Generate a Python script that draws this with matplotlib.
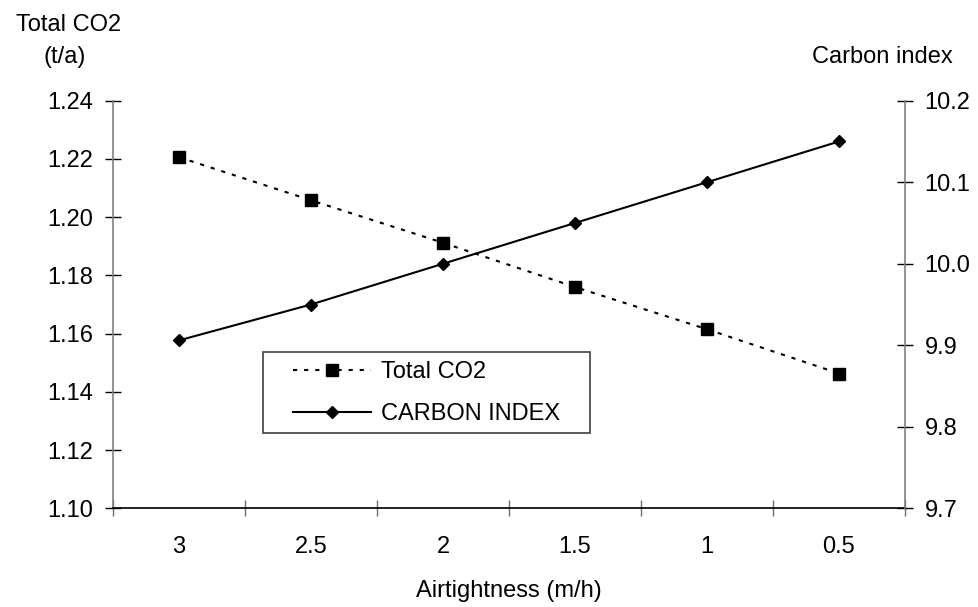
import matplotlib
matplotlib.use("Agg")
import matplotlib.pyplot as plt
from matplotlib.patches import Rectangle
from matplotlib.ticker import FixedLocator, FormatStrFormatter

plt.rcParams['font.family'] = ['Liberation Sans', 'DejaVu Sans']
plt.rcParams['font.size'] = 17
plt.rcParams['lines.scale_dashes'] = False

# data
airtightness = ['3', '2.5', '2', '1.5', '1', '0.5']
total_co2 = [1.2206, 1.2058, 1.1912, 1.1760, 1.1615, 1.1463]
carbon_index = [9.906, 9.950, 10.000, 10.050, 10.100, 10.150]

fig = plt.figure(figsize=(9.79, 6.07), dpi=100)
ax = fig.add_axes([113/979, 1-508.3/607, (905-113)/979, (508.3-100.7)/607])
ax2 = ax.twinx()

xs = list(range(len(airtightness)))
l1, = ax.plot(xs, total_co2, color='black', lw=1.5, linestyle=(0, (3, 5)),
              marker='s', markersize=8.3, markerfacecolor='black', markeredgecolor='black')
l2, = ax2.plot(xs, carbon_index, color='black', lw=1.5, linestyle='-',
               marker='D', markersize=6.2, markerfacecolor='black', markeredgecolor='black')

ax.set_xlim(-0.5, 5.5)
ax.set_ylim(1.10, 1.24)
ax2.set_ylim(9.7, 10.2)

ax.set_yticks([1.10, 1.12, 1.14, 1.16, 1.18, 1.20, 1.22, 1.24])
ax.yaxis.set_major_formatter(FormatStrFormatter('%.2f'))
ax2.set_yticks([9.7, 9.8, 9.9, 10.0, 10.1, 10.2])
ax2.yaxis.set_major_formatter(FormatStrFormatter('%.1f'))

ax.set_xticks(xs)
ax.set_xticklabels(airtightness)
ax.xaxis.set_minor_locator(FixedLocator([x - 0.5 for x in range(len(airtightness) + 1)]))
ax.tick_params(axis='x', which='major', length=0, pad=20)
ax.tick_params(axis='x', which='minor', direction='inout', length=12, width=1, color='#707070')
ax.tick_params(axis='y', direction='inout', length=12, width=1, color='black', pad=8)
ax2.tick_params(axis='y', direction='inout', length=12, width=1, color='black', pad=8)

for a in (ax, ax2):
    a.spines['top'].set_visible(False)
    a.spines['left'].set_color('#808080')
    a.spines['right'].set_color('#808080')
    a.spines['bottom'].set_color('black')
    a.spines['left'].set_linewidth(1.2)
    a.spines['right'].set_linewidth(1.2)
    a.spines['bottom'].set_linewidth(1.2)
ax.spines['right'].set_visible(False)
ax2.spines['left'].set_visible(False)
ax2.spines['bottom'].set_visible(False)

ax.set_xlabel('Airtightness (m/h)', labelpad=16)

fig.text(69/979, 1-25/607, 'Total CO2', ha='center', va='center')
fig.text(65/979, 1-57/607, '(t/a)', ha='center', va='center')
fig.text(882/979, 1-57/607, 'Carbon index', ha='center', va='center')

# legend with a plain box
fig.patches.append(Rectangle((263/979, 1-433/607), (590-263)/979, (433-352)/607,
                             transform=fig.transFigure, fill=False, edgecolor='#404040', lw=1.2))
leg = fig.legend([l1, l2], ['Total CO2', 'CARBON INDEX'], loc='center left',
                 bbox_to_anchor=(281/979, 1-393/607), frameon=False,
                 handlelength=3.3, handletextpad=0.42, labelspacing=0.85, borderpad=0)

fig.savefig('out.png', dpi=100)
